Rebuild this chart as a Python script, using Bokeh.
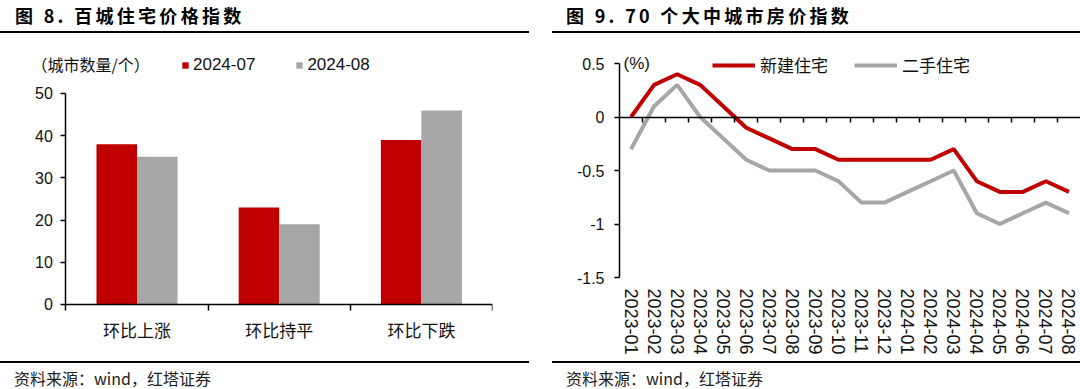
from bokeh.plotting import figure
from bokeh.models import (Range1d, FixedTicker, Legend, LegendItem, Label, Div,
                          ColumnDataSource, LinearAxis)
from bokeh.layouts import row, column
from bokeh.transform import dodge
from bokeh.embed import file_html
from bokeh.resources import INLINE

# ---------------- data ----------------
categories = ["环比上涨", "环比持平", "环比下跌"]
cities_2024_07 = [38, 23, 39]
cities_2024_08 = [35, 19, 46]
bar_series_names = ["2024-07", "2024-08"]
left_y_ticks = [0, 10, 20, 30, 40, 50]

months = ["2023-01", "2023-02", "2023-03", "2023-04", "2023-05", "2023-06",
          "2023-07", "2023-08", "2023-09", "2023-10", "2023-11", "2023-12",
          "2024-01", "2024-02", "2024-03", "2024-04", "2024-05", "2024-06",
          "2024-07", "2024-08"]
new_home = [0.0, 0.3, 0.4, 0.3, 0.1, -0.1, -0.2, -0.3, -0.3, -0.4, -0.4, -0.4,
            -0.4, -0.4, -0.3, -0.6, -0.7, -0.7, -0.6, -0.7]
second_hand = [-0.3, 0.1, 0.3, 0.0, -0.2, -0.4, -0.5, -0.5, -0.5, -0.6, -0.8, -0.8,
               -0.7, -0.6, -0.5, -0.9, -1.0, -0.9, -0.8, -0.9]
line_series_names = ["新建住宅", "二手住宅"]
right_y_ticks = [-1.5, -1.0, -0.5, 0.0, 0.5]

left_title = "图 8. 百城住宅价格指数"
right_title = "图 9. 70 个大中城市房价指数"
source_text = "资料来源：wind，红塔证券"
left_unit = "（城市数量/个）"
right_unit = "(%)"

# ---------------- style ----------------
CJK = "Noto Sans CJK SC"
NUM = "Liberation Sans"
RED = "#C00000"
GRAY = "#A6A6A6"
TXT = "#111111"


def title_div(text, width, pad):
    html = ('<div style="width:%dpx;height:33px;box-sizing:border-box;'
            'border-bottom:2px solid #000;padding-left:%dpx;'
            'font-family:\'Noto Sans CJK SC\';font-weight:bold;font-size:18px;'
            'letter-spacing:3.3px;line-height:31px;color:#000;white-space:nowrap;">%s</div>'
            % (width, pad, text))
    return Div(text=html, width=width, height=33, margin=0)


def source_div(text, width, pad):
    html = ('<div style="width:%dpx;height:28px;box-sizing:border-box;'
            'border-top:2px solid #000;padding-left:%dpx;padding-top:4px;'
            'font-family:\'Noto Sans CJK SC\';font-size:16px;'
            'line-height:22px;color:#222;white-space:nowrap;">%s</div>'
            % (width, pad, text))
    return Div(text=html, width=width, height=28, margin=0)


# ---------------- left chart ----------------
LW = 529
x_idx = [i + 0.5 for i in range(len(categories))]
src = ColumnDataSource(dict(x=x_idx, a=cities_2024_07, b=cities_2024_08))

p1 = figure(width=LW, height=328, x_range=Range1d(-0.242, len(categories)),
            y_range=Range1d(-9.72, 60.19), output_backend="svg", toolbar_location=None,
            min_border_left=31, min_border_right=37, min_border_top=17,
            min_border_bottom=16, margin=0)
bw = 0.285
r1 = p1.vbar(x=dodge("x", -bw / 2), top="a", width=bw, source=src,
             fill_color=RED, line_color=None)
r2 = p1.vbar(x=dodge("x", bw / 2), top="b", width=bw, source=src,
             fill_color=GRAY, line_color=None)

p1.grid.visible = False
p1.outline_line_color = None
p1.background_fill_color = "white"
p1.border_fill_color = "white"

xa = p1.xaxis[0]
xa.fixed_location = 0
xa.ticker = FixedTicker(ticks=x_idx, minor_ticks=list(range(len(categories) + 1)))
xa.bounds = (0, len(categories))
xa.major_label_overrides = {x: c for x, c in zip(x_idx, categories)}
xa.major_tick_line_color = None
xa.major_tick_out = 0
xa.major_tick_in = 0
xa.minor_tick_out = 6
xa.minor_tick_in = 0
xa.minor_tick_line_color = "black"
xa.minor_tick_line_width = 1.5
xa.axis_line_color = "black"
xa.axis_line_width = 1.5
xa.major_label_text_font = CJK
xa.major_label_text_font_size = "17px"
xa.major_label_text_color = TXT
xa.major_label_standoff = 7

ya = p1.yaxis[0]
ya.fixed_location = 0
ya.ticker = FixedTicker(ticks=left_y_ticks, minor_ticks=[])
ya.bounds = (left_y_ticks[0], left_y_ticks[-1])
ya.axis_line_color = "black"
ya.axis_line_width = 1.5
ya.major_tick_out = 5
ya.major_tick_in = 0
ya.major_tick_line_width = 1.5
ya.minor_tick_line_color = None
ya.major_label_text_font = NUM
ya.major_label_text_font_size = "16px"
ya.major_label_text_color = TXT
ya.major_label_standoff = 8

leg1 = Legend(items=[LegendItem(label=bar_series_names[0], renderers=[r1]),
                     LegendItem(label=bar_series_names[1], renderers=[r2])],
              orientation="horizontal", location=(150, 270),
              glyph_width=8, glyph_height=8, label_standoff=4, spacing=40,
              padding=0, margin=0, border_line_color=None,
              background_fill_alpha=0,
              label_text_font=NUM, label_text_font_size="17px",
              label_text_color=TXT)
p1.add_layout(leg1)
p1.add_layout(Label(x=-0.242, y=57.1, text=left_unit, text_baseline="middle",
                    text_font=CJK, text_font_size="16px", text_color=TXT))

# ---------------- right chart ----------------
RW = 528
xm = list(range(len(months)))
lsrc = ColumnDataSource(dict(x=xm, a=new_home, b=second_hand))
p2 = figure(width=RW, height=328, x_range=Range1d(-0.5, len(months) - 0.5),
            y_range=Range1d(right_y_ticks[0], 0.6215),
            output_backend="svg", toolbar_location=None,
            min_border_left=67, min_border_right=0, min_border_top=17,
            min_border_bottom=84, margin=0)
l1 = p2.line("x", "a", source=lsrc, line_color=RED, line_width=4)
l2 = p2.line("x", "b", source=lsrc, line_color=GRAY, line_width=4)
p2.grid.visible = False
p2.outline_line_color = None
p2.background_fill_color = "white"
p2.border_fill_color = "white"

xb = p2.xaxis[0]
xb.ticker = FixedTicker(ticks=xm, minor_ticks=[])
xb.major_label_overrides = {i: m for i, m in enumerate(months)}
xb.major_label_orientation = "vertical"
xb.axis_line_color = None
xb.major_tick_line_color = None
xb.major_tick_out = 0
xb.major_tick_in = 0
xb.minor_tick_line_color = None
xb.major_label_text_font = NUM
xb.major_label_text_font_size = "18px"
xb.major_label_text_color = TXT
xb.major_label_standoff = 11

zero_axis = LinearAxis(fixed_location=0,
                       ticker=FixedTicker(ticks=[], minor_ticks=[i + 0.5 for i in xm[:-1]]),
                       axis_line_color="black", axis_line_width=1.5,
                       major_tick_line_color=None, major_tick_out=0, major_tick_in=0,
                       minor_tick_out=5, minor_tick_in=0, minor_tick_line_color="black",
                       minor_tick_line_width=1.5,
                       major_label_text_font_size="0px", major_label_standoff=0)
p2.add_layout(zero_axis, "below")

yb = p2.yaxis[0]
yb.ticker = FixedTicker(ticks=right_y_ticks, minor_ticks=[])
yb.bounds = (right_y_ticks[0], right_y_ticks[-1])
yb.major_label_overrides = {v: ("%g" % v) for v in right_y_ticks}
yb.axis_line_color = "black"
yb.axis_line_width = 1.5
yb.major_tick_out = 5
yb.major_tick_in = 0
yb.major_tick_line_width = 1.5
yb.major_label_text_font = NUM
yb.major_label_text_font_size = "16px"
yb.major_label_text_color = TXT
yb.major_label_standoff = 10

leg2 = Legend(items=[LegendItem(label=line_series_names[0], renderers=[l1]),
                     LegendItem(label=line_series_names[1], renderers=[l2])],
              orientation="horizontal", location=(93, 200),
              glyph_width=43, glyph_height=16, label_standoff=5, spacing=26,
              padding=0, margin=0, border_line_color=None,
              background_fill_alpha=0,
              label_text_font=CJK, label_text_font_size="17px",
              label_text_color=TXT)
p2.add_layout(leg2)
p2.add_layout(Label(x=-0.5, y=right_y_ticks[-1], x_offset=4, text=right_unit,
                    text_baseline="middle", text_font=NUM, text_font_size="17px",
                    text_color=TXT))

# ---------------- layout ----------------
left = column(title_div(left_title, LW, 15), p1, source_div(source_text, LW, 14),
              spacing=0, margin=0)
right = column(title_div(right_title, RW, 14), p2, source_div(source_text, RW, 14),
               spacing=0, margin=0)
layout = row(left, right, spacing=23, margin=0)

open("out.html", "w").write(file_html(layout, INLINE))
